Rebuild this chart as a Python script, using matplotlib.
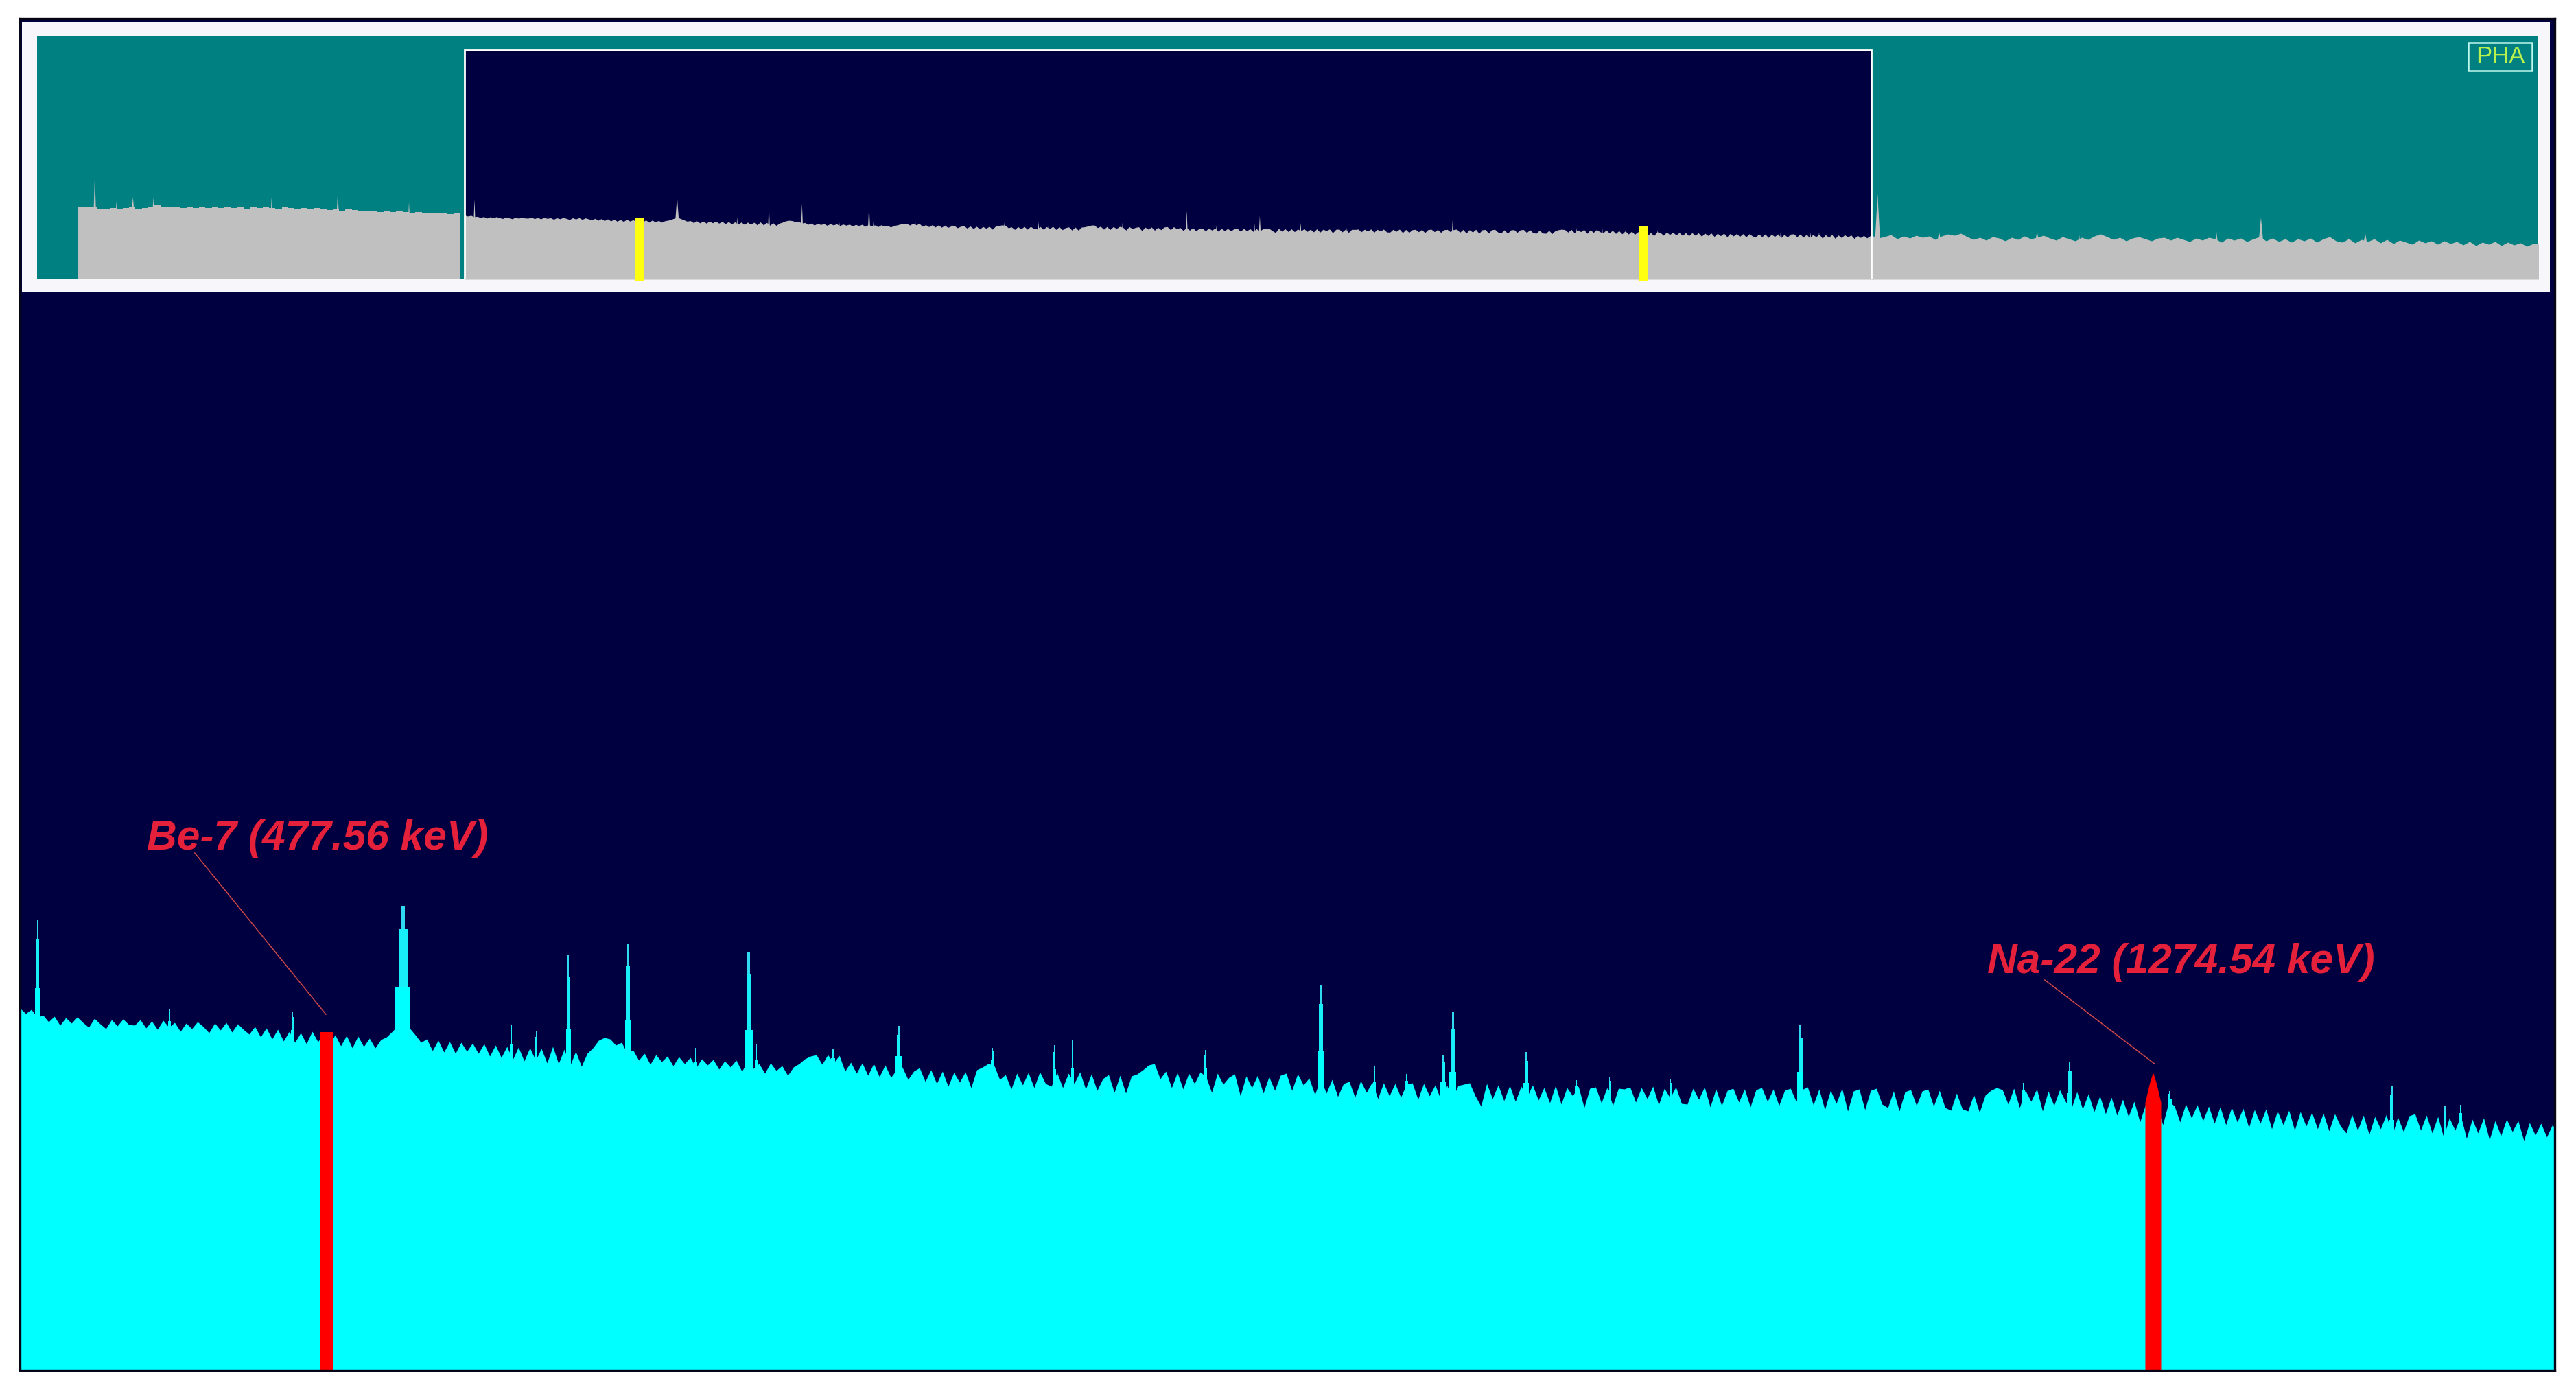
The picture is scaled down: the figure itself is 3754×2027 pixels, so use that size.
import matplotlib
matplotlib.use("Agg")
import matplotlib.pyplot as plt
import numpy as np
from matplotlib.patches import Rectangle

# ==========================================
# Spectrum data (height in counts)
# ==========================================

continuum_start_kev = 343.7
continuum_step_kev = 2.5
continuum = [
    528, 520, 526, 514, 518, 508, 516, 503, 514, 506, 515, 507, 500, 513, 505, 498, 511, 502, 512, 504,
    503, 511, 499, 509, 497, 510, 500, 507, 494, 506, 498, 508, 501, 492, 506, 496, 507, 493, 505, 497,
    490, 501, 486, 499, 483, 497, 480, 494, 478, 492, 476, 494, 479, 490, 474, 489, 473, 488, 470, 487,
    472, 484, 470, 482, 486, 494, 503, 510, 499, 489, 478, 483, 466, 481, 464, 479, 462, 478, 465, 477,
    462, 476, 458, 474, 456, 472, 453, 471, 451, 470, 452, 469, 448, 472, 447, 468, 444, 465, 443, 462,
    470, 481, 485, 483, 474, 478, 462, 467, 452, 462, 446, 460, 450, 458, 444, 457, 447, 456, 441, 454,
    445, 453, 439, 451, 442, 452, 436, 450, 440, 447, 433, 448, 437, 444, 430, 442, 447, 454, 458, 460,
    446, 460, 448, 459, 436, 449, 433, 448, 430, 447, 428, 445, 427, 438, 442, 424, 436, 441, 421, 438,
    418, 436, 414, 434, 420, 435, 412, 438, 442, 447, 445, 424, 431, 410, 433, 416, 434, 412, 435, 418,
    414, 434, 412, 433, 418, 435, 410, 432, 408, 425, 431, 405, 430, 404, 429, 432, 438, 445, 447, 425,
    436, 412, 434, 410, 433, 418, 435, 428, 405, 433, 417, 427, 432, 400, 429, 412, 430, 404, 428, 408,
    430, 433, 408, 432, 416, 426, 402, 425, 404, 424, 399, 418, 421, 398, 422, 405, 420, 396, 419, 400,
    418, 398, 417, 419, 395, 418, 400, 416, 394, 417, 396, 415, 417, 419, 400, 385, 418, 396, 416, 393,
    415, 392, 414, 398, 416, 394, 412, 390, 415, 388, 412, 400, 414, 383, 411, 413, 390, 412, 386, 411,
    410, 413, 391, 412, 396, 414, 387, 411, 397, 413, 389, 388, 411, 395, 413, 384, 410, 386, 408, 411,
    391, 410, 384, 409, 412, 392, 410, 386, 408, 411, 392, 409, 413, 387, 410, 380, 408, 389, 411, 378,
    407, 410, 380, 408, 411, 388, 383, 407, 378, 406, 409, 386, 407, 410, 385, 408, 383, 379, 404, 381,
    378, 402, 376, 401, 408, 412, 409, 388, 411, 383, 408, 392, 410, 378, 407, 386, 409, 392, 381, 406,
    381, 403, 377, 400, 374, 398, 372, 395, 370, 392, 362, 388, 360, 385, 358, 390, 386, 362, 388, 368,
    387, 364, 385, 360, 384, 358, 383, 362, 382, 354, 380, 360, 381, 352, 378, 358, 379, 350, 377, 356,
    376, 352, 375, 349, 374, 356, 346, 373, 350, 372, 344, 370, 352, 373, 342, 369, 348, 371, 374, 350,
    372, 346, 370, 340, 368, 350, 371, 338, 366, 346, 368, 336, 364, 342, 366, 348, 364, 335, 361, 343,
    360, 340, 358, 345,
]

peak_kev = [351.5, 409, 462.6, 510.8, 558, 569, 583, 609, 638.6, 661.7, 665, 698.5, 727, 768, 795, 803,
            861, 911.4, 934.7, 948.8, 964.7, 968.9, 1001, 1022.7, 1037.4, 1064, 1120.6, 1218, 1238,
            1281.7, 1378.6, 1401.8, 1408.6]
peak_top = [657, 527, 522, 677, 514, 494, 605, 622, 470, 609, 475, 469, 502, 470, 474, 481,
            467, 562, 444, 432, 460, 522, 464, 427, 427, 424, 504, 424, 449,
            407, 415, 385, 387]
peak_width = [2.4, 1.2, 1.5, 6.5, 1.2, 1.2, 2.2, 2.6, 1.0, 3.4, 1.2, 1.6, 2.6, 1.5, 1.4, 1.4,
              1.6, 2.6, 1.4, 1.2, 2.4, 2.8, 2.4, 1.0, 1.0, 1.2, 2.8, 1.0, 2.6,
              1.6, 2.2, 1.2, 1.2]

be7_kev = 477.56
be7_top = 493
be7_width = 5.7

na22_kev = 1274.54
na22_offset_kev = [-3.45, -3.45, -1.5, 0, 1.5, 3.45, 3.45]
na22_height = [0, 390, 418, 434, 418, 390, 0]

# overview strip: the parts of the spectrum outside the zoom window
low_start_kev = 40
low_end = [105, 105, 105, 102, 103, 104, 103, 104, 105, 103, 104, 106, 108, 106, 105, 106, 104, 105, 104, 105,
           104, 106, 104, 105, 104, 105, 103, 105, 104, 105, 104, 103, 105, 104, 103, 104, 102, 104, 103, 101,
           102, 100, 102, 101, 100, 99, 100, 98, 99, 98, 100, 98, 97, 98, 96, 97, 96, 97, 95, 96, 95]

high_start_kev = 1450
high_step_kev = 5
high_end = [64, 60, 62, 65, 59, 63, 60, 64, 61, 63, 58, 63, 66, 64, 67, 62, 58, 61, 57, 62,
            60, 56, 61, 58, 63, 59, 61, 64, 60, 57, 62, 59, 56, 61, 58, 63, 66, 62, 58, 61,
            56, 60, 62, 59, 56, 60, 61, 57, 61, 58, 55, 60, 57, 61, 59, 54, 60, 57, 60, 55,
            59, 62, 56, 60, 55, 59, 54, 59, 56, 60, 54, 59, 62, 56, 54, 59, 53, 58, 55, 59,
            53, 58, 52, 57, 54, 51, 57, 53, 56, 51, 56, 52, 55, 50, 55, 49, 54, 51, 55, 49,
            54, 50, 53, 48, 52, 51, 52]

overview_low_peak_kev = [53, 70, 83, 99, 192, 244, 300]
overview_low_peak_top = [150, 114, 120, 120, 120, 125, 112]
overview_low_peak_width = [4, 4, 7, 4, 4, 5, 4]
overview_high_peak_kev = [1454.6, 1503, 1580, 1613, 1721, 1756, 1838]
overview_high_peak_top = [124, 69, 69, 67, 69, 90, 67]
overview_high_peak_width = [5, 6, 6, 3, 4, 5, 5]

# yellow cursors in the overview, as drawn there
cursor_kev = [480.8, 1271.0]
cursor_top = [89, 77]

# counts to overview height
overview_ratio = 5.65

# ==========================================
# Figure
# ==========================================

W = 3755
H = 2027

NAVY = "#000040"
CYAN = "#00ffff"
TEAL = "#008080"
GREY = "#c0c0c0"
LABEL_RED = "#e4203a"


def px_axes(fig, left, top, right, bottom):
    return fig.add_axes([left / W, 1 - bottom / H, (right - left) / W, (bottom - top) / H])


fig = plt.figure(figsize=(W / 100, H / 100), dpi=100, facecolor="white")

continuum_kev = continuum_start_kev + continuum_step_kev * np.arange(len(continuum))

# ==========================================
# Main spectrum
# ==========================================

ax = px_axes(fig, 29, 27, 3723, 1997)
ax.set_facecolor(NAVY)
ax.set_xlim(343.7, 1449.7)
ax.set_ylim(0, 1970)
ax.set_xticks([])
ax.set_yticks([])
for spine in ax.spines.values():
    spine.set_color("#050515")
    spine.set_linewidth(2.4)
    spine.set_zorder(6)

ax.fill_between(continuum_kev, continuum, 0, color=CYAN, linewidth=0, zorder=2)

level = np.interp(peak_kev, continuum_kev, continuum)
excess = np.array(peak_top) - level
ax.bar(peak_kev, peak_top, width=[w * 0.3 for w in peak_width], color="#30d8f0", linewidth=0, zorder=3)
ax.bar(peak_kev, level + excess * 0.8, width=[w * 0.6 for w in peak_width], color="#18eef8", linewidth=0, zorder=3)
ax.bar(peak_kev, level + excess * 0.3, width=peak_width, color=CYAN, linewidth=0, zorder=3)

ax.bar(be7_kev, be7_top, width=be7_width, color="#ff0000", linewidth=0, zorder=4)
ax.fill(na22_kev + np.array(na22_offset_kev), na22_height, color="#ff0000", linewidth=0, zorder=4)

ax.text(399, 759, "Be-7 (477.56 keV)", color=LABEL_RED, fontsize=43.6, fontweight="bold",
        fontstyle="italic", family="Liberation Sans", va="baseline", zorder=5)
ax.text(1202, 579, "Na-22 (1274.54 keV)", color=LABEL_RED, fontsize=43.6, fontweight="bold",
        fontstyle="italic", family="Liberation Sans", va="baseline", zorder=5)

ax.plot([420, 477.2], [754, 519], color="#d04848", linewidth=1.1, zorder=5)
ax.plot([1227.2, 1275], [569, 447], color="#d04848", linewidth=1.1, zorder=5)

# ==========================================
# Overview strip
# ==========================================

panel = px_axes(fig, 32, 32, 3716, 425)
panel.set_facecolor("#f6f6fb")
panel.set_xticks([])
panel.set_yticks([])
for spine in panel.spines.values():
    spine.set_visible(False)

strip = px_axes(fig, 54, 52, 3699, 407)
strip.set_facecolor(TEAL)
strip.set_xlim(7.6, 1974)
strip.set_ylim(0, 355)
strip.set_xticks([])
strip.set_yticks([])
for spine in strip.spines.values():
    spine.set_visible(False)

low_kev = low_start_kev + high_step_kev * np.arange(len(low_end))
high_kev = high_start_kev + high_step_kev * np.arange(len(high_end))

strip.add_patch(Rectangle((343.7, 0), 1106, 334, facecolor=NAVY, edgecolor="none", zorder=1))

strip.fill_between(low_kev, low_end, 0, step="post", color=GREY, linewidth=0, zorder=2)
strip.fill_between(continuum_kev, np.array(continuum) / overview_ratio, 0,
                   color=GREY, linewidth=0, zorder=2)
strip.fill_between(high_kev, high_end, 0, color=GREY, linewidth=0, zorder=2)

for kev, top, width in zip(overview_low_peak_kev + overview_high_peak_kev,
                           overview_low_peak_top + overview_high_peak_top,
                           overview_low_peak_width + overview_high_peak_width):
    strip.fill([kev - width / 2, kev, kev + width / 2], [40, top, 40], color=GREY, linewidth=0, zorder=2)

for kev, top, width in zip(peak_kev, peak_top, peak_width):
    half = max(width / 2, 1.5)
    strip.fill([kev - half, kev, kev + half], [40, top / overview_ratio, 40], color=GREY, linewidth=0, zorder=2)

strip.add_patch(Rectangle((343.7, 0), 1106, 334, facecolor="none", edgecolor="white",
                          linewidth=2.0, zorder=3))

strip.bar(cursor_kev, [t + 3 for t in cursor_top], width=7.0, bottom=-3, color="#ffff10",
          linewidth=0, zorder=4, clip_on=False)

strip.add_patch(Rectangle((1919, 304), 50.3, 41, facecolor="none", edgecolor="#c0f8f0",
                          linewidth=1.8, zorder=5))
strip.text(1944, 325, "PHA", color="#b8f050", fontsize=25, family=["Liberation Sans Narrow", "Liberation Sans"],
           ha="center", va="center", zorder=5)

plt.savefig("out.png", dpi=100)
